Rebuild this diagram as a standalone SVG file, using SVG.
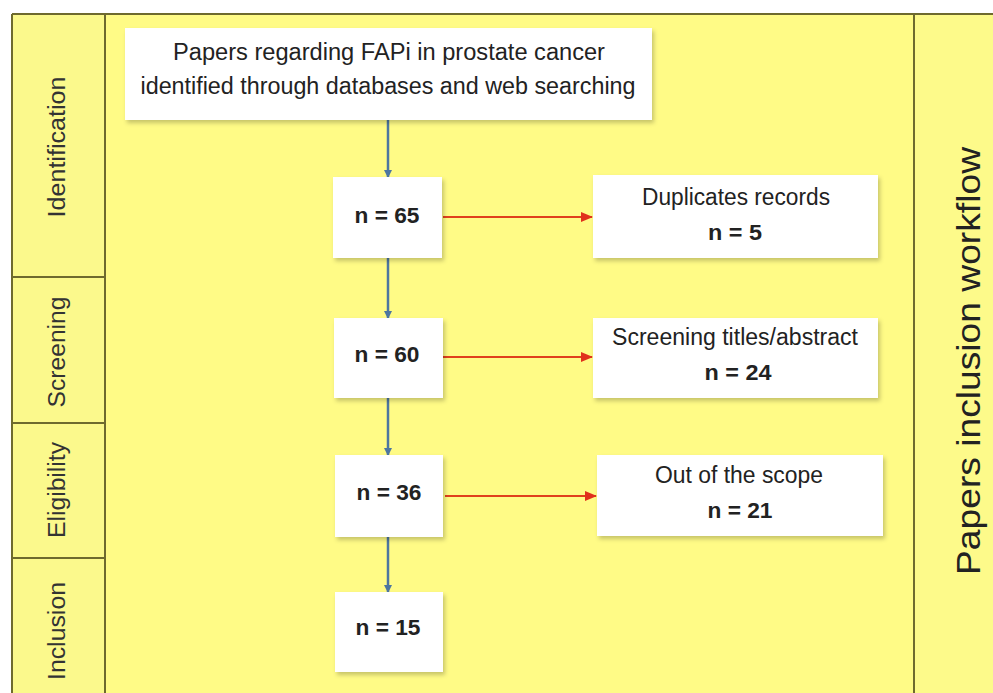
<svg xmlns="http://www.w3.org/2000/svg" width="993" height="693" viewBox="0 0 993 693">
<style>
  .bx{fill:#ffffff;filter:url(#sh)}
  .t{font-family:"Liberation Sans",Arial,sans-serif;fill:#222;text-anchor:middle}
  .n{font-size:22.5px;font-weight:bold}
  .r{font-size:23px}
  .lbl{font-family:"Liberation Sans",Arial,sans-serif;fill:#333;font-size:23px;text-anchor:middle}
  .blue{stroke:#4d76a0;stroke-width:2.5;fill:none;marker-end:url(#ab)}
  .red{stroke:#e0401c;stroke-width:2;fill:none;marker-end:url(#ar)}
  .ln{stroke:#6e6a2e;stroke-width:2;fill:none}
</style>
<defs>
  <filter id="sh" x="-10%" y="-10%" width="125%" height="130%">
    <feDropShadow dx="2" dy="3" stdDeviation="2" flood-color="#000" flood-opacity="0.22"/>
  </filter>
  <marker id="ab" markerWidth="8" markerHeight="8" refX="7" refY="4" orient="auto" markerUnits="userSpaceOnUse">
    <path d="M0,0 L8,4 L0,8 z" fill="#4d76a0"/>
  </marker>
  <marker id="ar" markerWidth="12" markerHeight="10" refX="11" refY="5" orient="auto" markerUnits="userSpaceOnUse">
    <path d="M0,0 L12,5 L0,10 z" fill="#e0301c"/>
  </marker>
</defs>
<rect width="993" height="693" fill="#ffffff"/>
<rect x="12" y="14" width="981" height="679" fill="#fffb86"/>
<rect x="12" y="14" width="93" height="679" fill="#fbf98c"/>
<rect x="914" y="14" width="79" height="679" fill="#fdfa8a"/>
<g id="frame">
  <path class="ln" d="M12,14 H993 M12,14 V693 M105,14 V693 M914,14 V693 M12,277 H105 M12,423 H105 M12,558 H105"/>
</g>
<g id="phase-labels">
  <text class="lbl" textLength="141" lengthAdjust="spacingAndGlyphs" transform="translate(65,147) rotate(-90)">Identification</text>
  <text class="lbl" textLength="111" lengthAdjust="spacingAndGlyphs" transform="translate(65,352) rotate(-90)">Screening</text>
  <text class="lbl" textLength="96" lengthAdjust="spacingAndGlyphs" transform="translate(65,490) rotate(-90)">Eligibility</text>
  <text class="lbl" textLength="98" lengthAdjust="spacingAndGlyphs" transform="translate(65,631) rotate(-90)">Inclusion</text>
  <text class="lbl" style="font-size:34px;fill:#222" textLength="428" lengthAdjust="spacingAndGlyphs" transform="translate(980,361) rotate(-90)">Papers inclusion workflow</text>
</g>
<g id="connectors">
  <line class="blue" x1="388" y1="120" x2="388" y2="177"/>
  <line class="blue" x1="388" y1="258" x2="388" y2="318"/>
  <line class="blue" x1="388" y1="398" x2="388" y2="455"/>
  <line class="blue" x1="388" y1="537" x2="388" y2="592"/>
  <line class="red" x1="443" y1="217" x2="592" y2="217"/>
  <line class="red" x1="443" y1="357" x2="592" y2="357"/>
  <line class="red" x1="445" y1="496" x2="596" y2="496"/>
</g>
<g id="node-source">
  <rect class="bx" x="125" y="28" width="527" height="92"/>
  <text class="t r" x="389" y="60" textLength="432" lengthAdjust="spacingAndGlyphs">Papers regarding FAPi in prostate cancer</text>
  <text class="t r" x="388" y="94" textLength="495" lengthAdjust="spacingAndGlyphs">identified through databases and web searching</text>
</g>
<g id="node-n65">
  <rect class="bx" x="333" y="177" width="109" height="81"/>
  <text class="t n" x="387" y="223" textLength="65" lengthAdjust="spacingAndGlyphs">n = 65</text>
</g>
<g id="node-n60">
  <rect class="bx" x="334" y="318" width="109" height="80"/>
  <text class="t n" x="387" y="362" textLength="65" lengthAdjust="spacingAndGlyphs">n = 60</text>
</g>
<g id="node-n36">
  <rect class="bx" x="335" y="455" width="108" height="82"/>
  <text class="t n" x="389" y="500" textLength="65" lengthAdjust="spacingAndGlyphs">n = 36</text>
</g>
<g id="node-n15">
  <rect class="bx" x="335" y="592" width="108" height="80"/>
  <text class="t n" x="388" y="635" textLength="65" lengthAdjust="spacingAndGlyphs">n = 15</text>
</g>
<g id="node-duplicates">
  <rect class="bx" x="593" y="175" width="285" height="83"/>
  <text class="t r" x="736" y="205" textLength="188" lengthAdjust="spacingAndGlyphs">Duplicates records</text>
  <text class="t n" x="735" y="240" textLength="54" lengthAdjust="spacingAndGlyphs">n = 5</text>
</g>
<g id="node-screening">
  <rect class="bx" x="593" y="318" width="285" height="80"/>
  <text class="t r" x="735" y="345" textLength="246" lengthAdjust="spacingAndGlyphs">Screening titles/abstract</text>
  <text class="t n" x="738" y="380" textLength="67" lengthAdjust="spacingAndGlyphs">n = 24</text>
</g>
<g id="node-scope">
  <rect class="bx" x="597" y="455" width="286" height="81"/>
  <text class="t r" x="739" y="483" textLength="168" lengthAdjust="spacingAndGlyphs">Out of the scope</text>
  <text class="t n" x="740" y="518" textLength="65" lengthAdjust="spacingAndGlyphs">n = 21</text>
</g>
</svg>
